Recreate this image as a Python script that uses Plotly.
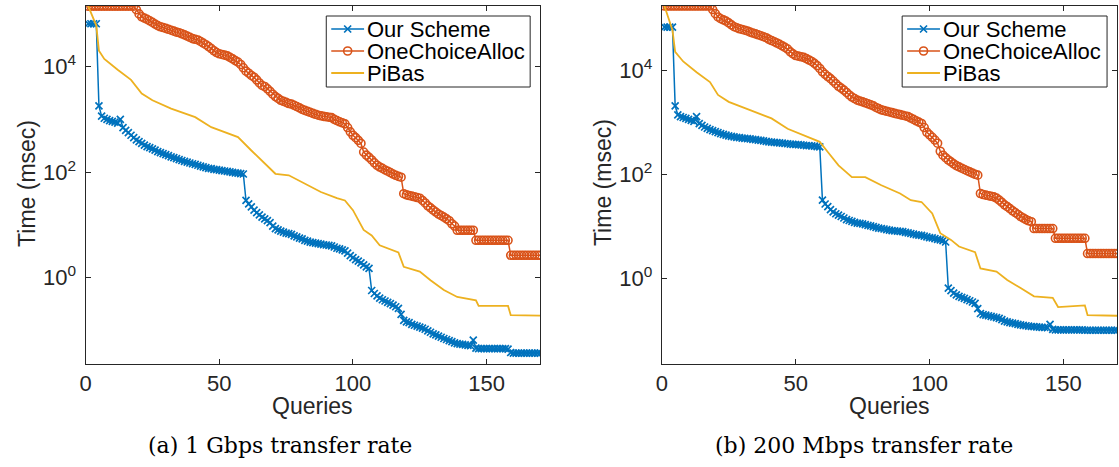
import plotly.graph_objects as go

queries = list(range(1, 171))

# ---- (a) 1 Gbps ----
L_our = [65000, 65000, 65000, 65000, 1800, 1150, 1050, 1000, 950, 920,
         890, 850, 1000, 700, 620, 560, 500, 450, 410, 380,
         350, 325, 305, 290, 275, 260, 245, 235, 225, 215,
         205, 195, 188, 180, 173, 166, 160, 154, 149, 144,
         140, 135, 130, 126, 122, 118, 116, 113, 111, 109,
         107, 105, 103, 101, 99, 97, 96, 94, 92, 29,
         25, 22, 19, 17, 15.5, 14, 13, 12, 11, 9.5,
         8.5, 8.0, 7.6, 7.3, 7.0, 6.8, 6.6, 6.2, 5.9, 5.6,
         5.4, 5.1, 4.9, 4.7, 4.6, 4.5, 4.4, 4.3, 4.2, 4.15,
         4.1, 4.0, 3.8, 3.6, 3.5, 3.35, 3.2, 2.9, 2.6, 2.4,
         2.2, 2.05, 1.9, 1.75, 1.6, 1.5, 0.57, 0.5, 0.45, 0.41,
         0.38, 0.36, 0.34, 0.32, 0.30, 0.28, 0.26, 0.2, 0.155, 0.145,
         0.14, 0.13, 0.125, 0.12, 0.115, 0.11, 0.105, 0.098, 0.092, 0.086,
         0.082, 0.078, 0.074, 0.070, 0.067, 0.064, 0.061, 0.058, 0.056, 0.055,
         0.054, 0.053, 0.052, 0.051, 0.065, 0.046, 0.045, 0.045, 0.045, 0.045,
         0.045, 0.045, 0.045, 0.045, 0.045, 0.045, 0.045, 0.044, 0.038, 0.037,
         0.037, 0.037, 0.037, 0.037, 0.037, 0.037, 0.037, 0.037, 0.037, 0.037]

L_one = [140000] * 10 + \
        [140000] * 8 + [120000, 100000] + \
        [88000, 83000, 79000, 74000, 69000, 64000, 60000, 57000, 55000, 53000,
         51000, 49000, 47000, 45000, 44000, 42000, 40000, 38000, 36000, 34000,
         33000, 32000, 30000, 28000, 26000, 24000, 22000, 20000, 18500, 17500,
         17000, 16500, 16000, 15000, 14000, 13000, 12200, 11000, 9500, 8200,
         7500, 6800, 6300, 5600, 4900, 4400, 4200, 3800, 3400, 3000,
         2700, 2500, 2300, 2200, 2100, 2000, 1950, 1850, 1750, 1650,
         1550, 1480, 1420, 1360, 1300, 1250, 1200, 1170, 1140, 1120,
         1100, 1080, 1000, 950, 900, 860, 820, 700, 580, 500,
         450, 400, 350, 240, 210, 190, 170, 150, 135, 125,
         118, 110, 104, 98, 92, 87, 83, 80, 39, 37,
         36, 35, 34, 33, 32, 29, 26, 23, 21, 19,
         17.5, 16, 15, 14, 13, 12, 10.5, 9.5, 7.9, 7.9] + \
        [7.9] * 5 + [5.1] * 5 + \
        [5.1] * 8 + [2.65, 2.65] + \
        [2.65] * 10

L_pi_x = [1, 4, 5, 7, 12, 17, 21, 25, 32, 41, 47, 52, 57, 62, 67, 71, 76, 82, 88, 94,
          97, 100, 104, 107, 110, 117, 119, 125, 129, 134, 139, 146, 147, 158, 159, 170]
L_pi = [140000, 60000, 20000, 14000, 8700, 5600, 3100, 2300, 1600, 1100, 710, 575, 460,
        257, 145, 93, 87, 60, 42, 32, 29, 19, 8, 6.3, 4.1, 3.0, 1.6, 1.3, 0.89, 0.58,
        0.43, 0.37, 0.29, 0.29, 0.195, 0.19]

# ---- (b) 200 Mbps ----
R_our = [69000, 69000, 69000, 69000, 2100, 1400, 1300, 1250, 1200, 1150,
         1100, 1050, 1300, 950, 880, 820, 770, 730, 700, 670,
         640, 610, 590, 570, 555, 540, 530, 520, 510, 500,
         495, 490, 485, 475, 470, 460, 455, 445, 435, 425,
         420, 415, 410, 405, 400, 395, 390, 385, 380, 378,
         375, 370, 365, 360, 358, 355, 350, 345, 340, 32,
         27, 24, 21, 19, 17.5, 16.5, 15.5, 14.5, 13.5, 13,
         12.5, 12, 11.6, 11.4, 11.2, 10.8, 10.5, 10.2, 9.9, 9.6,
         9.3, 9.1, 8.9, 8.7, 8.5, 8.3, 8.2, 8.1, 8.0, 7.9,
         7.7, 7.5, 7.3, 7.1, 6.9, 6.8, 6.7, 6.5, 6.3, 6.1,
         6.0, 5.8, 5.6, 5.5, 5.3, 5.0, 0.65, 0.58, 0.52, 0.48,
         0.45, 0.43, 0.41, 0.39, 0.37, 0.35, 0.33, 0.26, 0.21, 0.2,
         0.195, 0.19, 0.185, 0.18, 0.175, 0.17, 0.16, 0.15, 0.145, 0.14,
         0.137, 0.134, 0.13, 0.127, 0.124, 0.122, 0.12, 0.118, 0.117, 0.116,
         0.115, 0.114, 0.113, 0.112, 0.13, 0.104, 0.102, 0.102, 0.102, 0.102,
         0.102, 0.102, 0.102, 0.102, 0.102, 0.102, 0.102, 0.1, 0.1, 0.1,
         0.1, 0.1, 0.1, 0.1, 0.1, 0.1, 0.1, 0.1, 0.1, 0.1]

R_one = [175000] * 10 + \
        [175000] * 8 + [150000, 125000] + \
        [108000, 100000, 95000, 90000, 83000, 76000, 70000, 67000, 64000, 62000,
         60000, 58000, 55000, 53000, 51000, 49000, 47000, 45000, 43000, 40000,
         38000, 36000, 34000, 32000, 30000, 28000, 26000, 23000, 21000, 19500,
         19000, 18500, 18000, 17000, 16000, 15000, 13800, 12500, 11000, 9500,
         8500, 7700, 7000, 6300, 5600, 5000, 4600, 4200, 3800, 3400,
         3100, 2900, 2700, 2600, 2500, 2400, 2300, 2200, 2100, 1950,
         1850, 1750, 1700, 1650, 1600, 1550, 1500, 1460, 1420, 1380,
         1340, 1300, 1220, 1150, 1080, 1020, 960, 800, 650, 580,
         520, 460, 400, 280, 235, 210, 190, 175, 160, 148,
         140, 132, 125, 118, 112, 106, 101, 97, 43, 41,
         40, 39, 38, 37, 35, 32, 29, 26, 24, 22,
         20, 18.5, 17, 15.5, 14.5, 13.5, 12.8, 12.3, 9.1, 9.1] + \
        [9.1] * 6 + [5.9] * 4 + \
        [5.9] * 8 + [3.0, 3.0] + \
        [3.0] * 10

R_pi_x = [1, 4, 5, 8, 13, 18, 21, 25, 33, 41, 47, 55, 59, 62, 66, 71, 76, 82, 89, 93,
          97, 101, 104, 108, 111, 117, 119, 125, 129, 134, 139, 146, 148, 158, 159, 170]
R_pi = [175000, 60000, 23000, 15000, 9300, 6000, 3400, 2500, 1740, 1200, 760, 525, 425,
        270, 150, 89, 89, 62, 43, 32, 29.5, 17.8, 7.4, 5.5, 4.1, 3.2, 1.55, 1.35, 0.93,
        0.65, 0.45, 0.42, 0.28, 0.3, 0.195, 0.19]

series_names = ["Our Scheme", "OneChoiceAlloc", "PiBas"]
captions = ["(a) 1 Gbps transfer rate", "(b) 200 Mbps transfer rate"]
x_title, y_title = "Queries", "Time (msec)"
x_ticks = [0, 50, 100, 150]
y_tickvals = [1, 100, 10000]
y_ticktext = ["10<sup>0</sup>", "10<sup>2</sup>", "10<sup>4</sup>"]

BLUE, ORANGE, YELLOW = "#0072BD", "#D95319", "#EDB120"
AX = "#262626"
FONT = "Liberation Sans, Arial, sans-serif"
W, H = 1119, 467

styles = [
    dict(mode="lines+markers", line=dict(color=BLUE, width=1.5),
         marker=dict(symbol="x-thin-open", size=7, color=BLUE, line=dict(color=BLUE, width=1.7))),
    dict(mode="lines+markers", line=dict(color=ORANGE, width=1.5),
         marker=dict(symbol="circle-open", size=8, color=ORANGE, line=dict(color=ORANGE, width=1.6))),
    dict(mode="lines", line=dict(color=YELLOW, width=1.8)),
]

fig = go.Figure()

panels = [
    dict(our=L_our, one=L_one, pix=L_pi_x, pi=L_pi, xa="x", ya="y", box=(322, 527),
         xl=80, xr=537),
    dict(our=R_our, one=R_one, pix=R_pi_x, pi=R_pi, xa="x2", ya="y2", box=(901, 1107),
         xl=659.3, xr=1117),
]
for p in panels:
    for (xs, ys), name, st in zip([(queries, p["our"]), (queries, p["one"]), (p["pix"], p["pi"])],
                                  series_names, styles):
        fig.add_trace(go.Scatter(x=xs, y=ys, name=name, showlegend=False,
                                 xaxis=p["xa"], yaxis=p["ya"], **st))

# ---- legends drawn on a pixel overlay axis (x3/y3) ----
annotations = []
LEG_TOP, LEG_BOT = 16, 87
ROWS = [29, 51, 73]
for p in panels:
    bx0, bx1 = p["box"]
    fig.add_trace(go.Scatter(x=[bx0, bx1, bx1, bx0, bx0], y=[LEG_TOP, LEG_TOP, LEG_BOT, LEG_BOT, LEG_TOP],
                             mode="lines", fill="toself", fillcolor="white",
                             line=dict(color=AX, width=1), showlegend=False, hoverinfo="skip",
                             xaxis="x3", yaxis="y3"))
    lx0, lx1 = bx0 + 5, bx0 + 38
    for name, st, ry in zip(series_names, styles, ROWS):
        fig.add_trace(go.Scatter(x=[lx0, lx1], y=[ry, ry], mode="lines", line=st["line"],
                                 showlegend=False, hoverinfo="skip", xaxis="x3", yaxis="y3"))
        if "marker" in st:
            fig.add_trace(go.Scatter(x=[(lx0 + lx1) / 2], y=[ry], mode="markers", marker=st["marker"],
                                     showlegend=False, hoverinfo="skip", xaxis="x3", yaxis="y3"))
        annotations.append(dict(text=name, x=lx1 + 2, y=ry, xref="x3", yref="y3", showarrow=False,
                                xanchor="left", yanchor="middle", borderpad=0,
                                font=dict(family=FONT, size=22, color="black")))
    # axis titles
    annotations.append(dict(text=x_title, x=(p["xl"] + p["xr"]) / 2, y=406, xref="x3", yref="y3",
                            showarrow=False, xanchor="center", yanchor="middle",
                            font=dict(family=FONT, size=23, color=AX)))
    annotations.append(dict(text=y_title, x=p["xl"] - 59, y=183, xref="x3", yref="y3",
                            showarrow=False, textangle=-90, xanchor="center", yanchor="middle",
                            font=dict(family=FONT, size=23, color=AX)))

for i, cap in enumerate(captions):
    annotations.append(dict(text=cap, x=[275, 863][i], y=445, xref="x3", yref="y3",
                            showarrow=False, xanchor="center", yanchor="middle",
                            font=dict(family="DejaVu Serif, Liberation Serif, serif", size=22,
                                      color="black")))

ydom = [1 - 364 / H, 1 - 5.7 / H]
common_x = dict(range=[0, 170], tickvals=x_ticks, ticks="inside", ticklen=5, tickcolor=AX,
                showline=True, linecolor=AX, linewidth=1, mirror="ticks", showgrid=False,
                zeroline=False, tickfont=dict(family=FONT, size=22, color=AX))
common_y = dict(type="log", tickvals=y_tickvals, ticktext=y_ticktext, ticks="inside", ticklen=5,
                tickcolor=AX, showline=True, linecolor=AX, linewidth=1, mirror="ticks",
                showgrid=False, zeroline=False, tickfont=dict(family=FONT, size=22, color=AX),
                ticklabelstandoff=4)

fig.update_layout(
    width=W, height=H, autosize=False,
    margin=dict(l=0, r=0, t=0, b=0),
    paper_bgcolor="white", plot_bgcolor="rgba(0,0,0,0)",
    showlegend=False,
    xaxis=dict(domain=[80 / W, 537 / W], anchor="y", **common_x),
    yaxis=dict(domain=ydom, anchor="x", range=[-1.638, 5.155], **common_y),
    xaxis2=dict(domain=[659.3 / W, 1117 / W], anchor="y2", **common_x),
    yaxis2=dict(domain=ydom, anchor="x2", range=[-1.65, 5.25], **common_y),
    xaxis3=dict(domain=[0, 1], range=[0, W], visible=False, anchor="y3", fixedrange=True),
    yaxis3=dict(domain=[0, 1], range=[H, 0], visible=False, anchor="x3", fixedrange=True),
    annotations=annotations,
)

fig.write_html("out.html")
